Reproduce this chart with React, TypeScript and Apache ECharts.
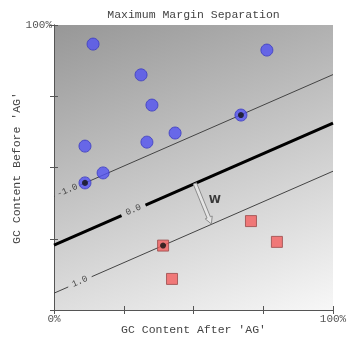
import React, { useEffect, useRef } from "react";
import * as echarts from "echarts";

// ---- data (percent units) ----
const bluePoints: number[][] = [
  [14.0, 93.3], [31.2, 82.5], [76.3, 91.2], [35.1, 71.9], [43.4, 62.1],
  [33.3, 58.9], [11.1, 57.5], [17.6, 48.1], [11.1, 44.6], [67.0, 68.4],
];
const redPoints: number[][] = [
  [39.1, 22.6], [42.3, 10.9], [70.6, 31.2], [79.9, 23.9],
];
const supportVectors: number[][] = [[11.1, 44.6], [67.0, 68.4], [39.1, 22.6]];

const slope = 0.428;
const levelLabels = ["-1.0", "0.0", "1.0"];
const intercepts = [39.8, 22.8, 5.9];
const labelCenters = [4.8, 28.5, 9.3];
const gapHalf = [4.5, 4.3, 4.2];
const lineWidths = [1, 3, 1];
const lineColors = ["#444", "#000", "#444"];

const arrowData = [[50.5, 44.4, 56.4, 30.2]];
const wLabel = [[57.6, 38.6]];

const xTickLabels: Record<number, string> = { 0: "0%", 100: "100%" };
const yTickLabels: Record<number, string> = { 100: "100%" };

const titleText = "Maximum Margin Separation";
const xName = "GC Content After 'AG'";
const yName = "GC Content Before 'AG'";

const MONO = "'Liberation Mono', 'DejaVu Sans Mono', monospace";

export default function App() {
  const ref = useRef<HTMLDivElement>(null);
  useEffect(() => {
    if (!ref.current) return;
    const chart = echarts.init(ref.current, null, { renderer: "svg" });

    const lineSeries: any[] = [];
    const labelData: any[] = [];
    levelLabels.forEach((lab, i) => {
      const b = intercepts[i];
      const f = (x: number) => b + slope * x;
      const a = labelCenters[i] - gapHalf[i];
      const c = labelCenters[i] + gapHalf[i];
      const segs = [
        [[0, f(0)], [a, f(a)]],
        [[c, f(c)], [100, f(100)]],
      ];
      segs.forEach((s) => {
        if (s[1][0] <= s[0][0]) return;
        lineSeries.push({
          type: "line",
          data: s,
          symbol: "none",
          silent: true,
          lineStyle: { color: lineColors[i], width: lineWidths[i] },
          z: 2,
        });
      });
      labelData.push({
        value: [labelCenters[i], f(labelCenters[i])],
        label: { formatter: lab },
      });
    });

    const angle = (Math.atan(slope * (285 / 100) / (279 / 100)) * 180) / Math.PI;

    chart.setOption({
      animation: false,
      grid: {
        left: 54,
        right: 16,
        top: 25,
        bottom: 29,
        outerBoundsMode: "none",
        containLabel: false,
        show: true,
        borderWidth: 0,
        backgroundColor: new echarts.graphic.LinearGradient(0, 0, 0.43, 1.2, [
          { offset: 0, color: "#979797" },
          { offset: 1, color: "#f7f7f7" },
        ]),
      },
      graphic: [
        {
          type: "text",
          x: 193.5,
          y: 14,
          style: {
            text: titleText,
            fontFamily: MONO,
            fontSize: 11.5,
            fill: "#444",
            textAlign: "center",
            textVerticalAlign: "middle",
          },
        },
        {
          type: "text",
          x: 193.5,
          y: 329,
          style: {
            text: xName,
            fontFamily: MONO,
            fontSize: 11.5,
            fill: "#444",
            textAlign: "center",
            textVerticalAlign: "middle",
          },
        },
        {
          type: "text",
          x: 16,
          y: 168,
          rotation: Math.PI / 2,
          style: {
            text: yName,
            fontFamily: MONO,
            fontSize: 11.5,
            fill: "#444",
            textAlign: "center",
            textVerticalAlign: "middle",
          },
        },
      ],
      xAxis: [
        {
          type: "value",
          min: 0,
          max: 100,
          interval: 25,
          position: "bottom",
          axisLine: { lineStyle: { color: "#555" } },
          axisTick: { inside: true, length: 4, lineStyle: { color: "#555" } },
          splitLine: { show: false },
          axisLabel: {
            fontFamily: MONO,
            fontSize: 11,
            color: "#555",
            margin: 3,
            formatter: (v: number) => xTickLabels[v] ?? "",
          },
        },
        {
          type: "value",
          min: 0,
          max: 100,
          interval: 25,
          position: "top",
          axisLine: { show: true, lineStyle: { color: "#555" } },
          axisTick: { inside: true, length: 4, lineStyle: { color: "#555" } },
          splitLine: { show: false },
          axisLabel: { show: false },
        },
      ],
      yAxis: [
        {
          type: "value",
          min: 0,
          max: 100,
          interval: 25,
          position: "left",
          axisLine: { show: true, lineStyle: { color: "#555" } },
          axisTick: { show: true, inside: true, length: 4, lineStyle: { color: "#555" } },
          splitLine: { show: false },
          axisLabel: {
            fontFamily: MONO,
            fontSize: 11,
            color: "#555",
            margin: 2,
            formatter: (v: number) => yTickLabels[v] ?? "",
          },
        },
        {
          type: "value",
          min: 0,
          max: 100,
          interval: 25,
          position: "right",
          axisLine: { show: true, lineStyle: { color: "#555" } },
          axisTick: { show: true, inside: true, length: 4, lineStyle: { color: "#555" } },
          splitLine: { show: false },
          axisLabel: { show: false },
        },
      ],
      series: [
        ...lineSeries,
        {
          type: "scatter",
          data: labelData,
          symbolSize: 0,
          silent: true,
          z: 3,
          label: {
            show: true,
            position: "inside",
            rotate: angle,
            fontFamily: MONO,
            fontSize: 9,
            color: "#222",
          },
        },
        {
          type: "custom",
          data: arrowData,
          encode: { x: [0, 2], y: [1, 3] },
          z: 4,
          silent: true,
          renderItem: (params: any, api: any) => {
            const p0 = api.coord([api.value(0), api.value(1)]);
            const p1 = api.coord([api.value(2), api.value(3)]);
            const dx = p1[0] - p0[0];
            const dy = p1[1] - p0[1];
            const len = Math.sqrt(dx * dx + dy * dy);
            const ux = dx / len;
            const uy = dy / len;
            const nx = -uy;
            const ny = ux;
            const sw = 1.8;
            const hw = 3.8;
            const hl = 7;
            const bx = p1[0] - ux * hl;
            const by = p1[1] - uy * hl;
            const pts = [
              [p0[0] + nx * sw, p0[1] + ny * sw],
              [bx + nx * sw, by + ny * sw],
              [bx + nx * hw, by + ny * hw],
              [p1[0], p1[1]],
              [bx - nx * hw, by - ny * hw],
              [bx - nx * sw, by - ny * sw],
              [p0[0] - nx * sw, p0[1] - ny * sw],
            ];
            return {
              type: "polygon",
              shape: { points: pts },
              style: { fill: "#e4e4e4", stroke: "#8c8c8c", lineWidth: 1 },
            };
          },
        },
        {
          type: "scatter",
          data: wLabel,
          symbolSize: 0,
          silent: true,
          z: 4,
          label: {
            show: true,
            position: "inside",
            formatter: "W",
            fontFamily: "'DejaVu Sans', sans-serif",
            fontWeight: "bold",
            fontSize: 11,
            color: "#111",
          },
        },
        {
          type: "scatter",
          data: bluePoints,
          symbol: "circle",
          symbolSize: 12,
          z: 5,
          itemStyle: { color: "#5252f2", borderColor: "#3a3ac0", borderWidth: 1 },
        },
        {
          type: "scatter",
          data: redPoints,
          symbol: "rect",
          symbolSize: 11,
          z: 5,
          itemStyle: { color: "#f45e5e", borderColor: "#9a4a4a", borderWidth: 1 },
        },
        {
          type: "scatter",
          data: supportVectors,
          symbol: "circle",
          symbolSize: 6,
          z: 6,
          itemStyle: { color: "#111" },
        },
      ],
    });
    return () => chart.dispose();
  }, []);
  return (
    <div
      ref={ref}
      style={{ position: "fixed", left: 0, top: 0, width: 349, height: 339 }}
    />
  );
}
